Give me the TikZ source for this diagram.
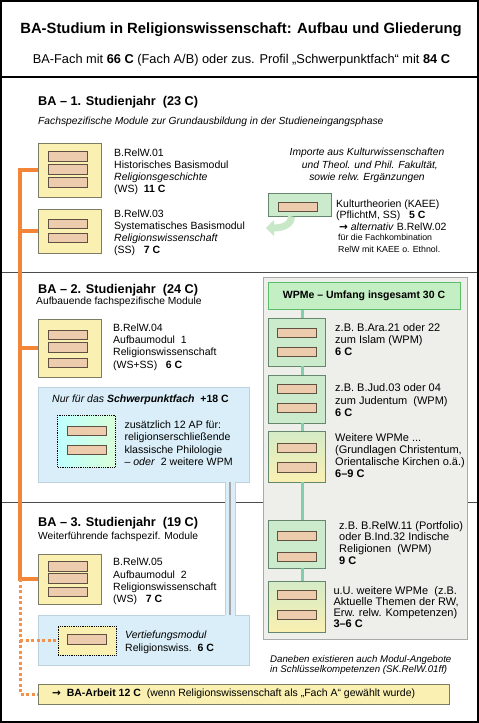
\documentclass[tikz,border=0pt]{standalone}
\usepackage{fontspec}
\setmainfont{Liberation Sans}
\newfontfamily\arrowfont{DejaVu Sans}
\usetikzlibrary{arrows.meta}

\definecolor{relworange}{RGB}{242,133,55}
\definecolor{modyellow}{RGB}{249,240,178}
\definecolor{modline}{RGB}{125,125,100}
\definecolor{barfill}{RGB}{236,204,172}
\definecolor{barline}{RGB}{95,80,65}
\definecolor{wpmgreen}{RGB}{204,234,204}
\definecolor{wpmline}{RGB}{100,135,110}
\definecolor{headgreen}{RGB}{196,238,196}
\definecolor{headline}{RGB}{90,190,105}
\definecolor{wpmlink}{RGB}{128,206,170}
\definecolor{spblue}{RGB}{217,238,248}
\definecolor{spline}{RGB}{190,210,222}
\definecolor{panelgray}{RGB}{238,238,234}
\definecolor{panelline}{RGB}{170,170,170}
\definecolor{arrowgreen}{RGB}{200,232,200}

\newcommand{\toarrow}{{\arrowfont\bfseries →}}

\begin{document}
\begin{tikzpicture}[x=1pt, y=-1pt,
  modbox/.style={rectangle, draw=modline, fill=modyellow, line width=0.8pt,
                 minimum width=63pt, inner sep=0pt},
  wpmbox/.style={rectangle, draw=wpmline, fill=wpmgreen, line width=0.8pt,
                 minimum width=57.5pt, inner sep=0pt},
  mixbox/.style={wpmbox, top color=wpmgreen!80!modyellow, bottom color=modyellow},
  bar/.style={rectangle, draw=barline, fill=barfill, line width=0.7pt,
              minimum width=39pt, minimum height=9.5pt, inner sep=0pt},
  txt/.style={anchor=north west, inner sep=0pt, align=left,
              font=\fontsize{10.5}{12.3}\selectfont},
  wtxt/.style={txt, font=\fontsize{11}{11.9}\selectfont},
  head/.style={anchor=west, inner sep=0pt, font=\fontsize{12.7}{15}\selectfont\bfseries},
  sub/.style={anchor=west, inner sep=0pt, font=\fontsize{10.3}{12}\selectfont},
  panel/.style={rectangle, inner sep=0pt, line width=0.8pt},
  divider/.style={line width=0.9pt, black!70},
  spine/.style={relworange, line width=3.5pt},
  spinedot/.style={relworange!90!white, line width=3pt, dash pattern=on 3pt off 2.5pt},
  link/.style={wpmlink, line width=3pt}
]
\useasboundingbox (0,0) rectangle (479,723);

% Frame and title
\draw[line width=1.5pt] (1,1) rectangle (478,722);
\draw[line width=1.5pt] (1,77) -- (478,77);
\node[font=\fontsize{14.8}{17}\selectfont\bfseries] (title) at (241,30)
  {BA-Studium in Religionswissenschaft: Aufbau und Gliederung};
\node[font=\fontsize{12.8}{14}\selectfont] (subtitle) at (241.5,60)
  {BA-Fach mit \textbf{66 C} (Fach A/B) oder zus. Profil „Schwerpunktfach“ mit \textbf{84 C}};

% Year dividers
\draw[divider] (2,272) -- (477,272);
\draw[divider] (2,502) -- (477,502);

% Panels
\node[panel, draw=spline, fill=spblue, minimum width=211pt, minimum height=95pt] (sp) at (143.5,434.5) {};
\node[panel, draw=spline, fill=spblue, minimum width=211pt, minimum height=50pt] (vt) at (143.5,640) {};
\fill[spblue] (225,481) rectangle (235,616);
\draw[spline, line width=0.6pt] (225,482) -- (225,615) (235,482) -- (235,615);
\coordinate (strip) at (230,0);
\draw[black!35, line width=1.2pt] (sp.south -| strip) -- (vt.north -| strip);
\node[panel, draw=panelline, fill=panelgray, minimum width=204pt, minimum height=362pt] (wp) at (365,458) {};

% 1. Studienjahr
\node[head] (y1) at (38,102) {BA – 1. Studienjahr\ \ (23 C)};
\node[sub, font=\fontsize{10.3}{12}\selectfont\itshape] (y1sub) at (38,122)
  {Fachspezifische Module zur Grundausbildung in der Studieneingangsphase};

\node[modbox, minimum height=54pt] (m1) at (69.5,170) {};
\foreach \y in {156.5,169.5,182.5} \node[bar] at (67.5,\y) {};
\node[txt] (m1t) at (114,148.2)
  {B.RelW.01\\Historisches Basismodul\\\textit{Religionsgeschichte}\\(WS)\ \ \textbf{11 C}};

\node[modbox, minimum height=44pt] (m2) at (69.5,231) {};
\foreach \y in {224,238} \node[bar] at (67.5,\y) {};
\node[txt] (m2t) at (114,209.2)
  {B.RelW.03\\Systematisches Basismodul\\\textit{Religionswissenschaft}\\(SS)\ \ \ \textbf{7 C}};

\node[txt, anchor=north, align=center, font=\fontsize{10.3}{12.5}\selectfont\itshape] (imp) at (367,148.3)
  {Importe aus Kulturwissenschaften\\\ \ und Theol. und Phil. Fakultät,\\sowie relw. Ergänzungen};

\node[wpmbox, minimum width=63pt, minimum height=23pt] (k) at (299.5,204.5) {};
\node[bar] at (297.5,207) {};
\node[txt, font=\fontsize{10.5}{11.6}\selectfont] (kt) at (336,199.5)
  {Kulturtheorien (KAEE)\\(PflichtM, SS)\ \ \ \textbf{5 C}\\\ \toarrow\ \textit{alternativ} B.RelW.02};
\node[txt, font=\fontsize{8.8}{12.6}\selectfont] (kt2) at (338,233.6)
  {für die Fachkombination\\RelW mit KAEE o. Ethnol.};
\draw[arrowgreen, line width=7pt, -{Triangle[width=16pt,length=8pt]}]
  ([xshift=-8pt]k.south) .. controls +(0,12) and +(8,0) .. (266,228);

% 2. Studienjahr
\node[head] (y2) at (38,290) {BA – 2. Studienjahr\ \ (24 C)};
\node[sub] (y2sub) at (36,302) {Aufbauende fachspezifische Module};

\node[modbox, minimum height=58pt] (m4) at (69.5,348) {};
\foreach \y in {335,347.5,363} \node[bar] at (67.5,\y) {};
\node[txt] (m4t) at (113,323.5)
  {B.RelW.04\\Aufbaumodul\ \ 1\\Religionswissenschaft\\(WS+SS)\ \ \ \textbf{6 C}};

\node[anchor=west, inner sep=0pt, font=\fontsize{10.5}{12}\selectfont] (spt) at (52,400)
  {\textit{Nur für das \textbf{Schwerpunktfach}}\ \ \textbf{+18 C}};
\node[panel, draw=black, densely dotted, line width=1pt, left color=cyan!25!white,
  right color=green!15!white, minimum width=57.5pt, minimum height=52pt] (d1) at (86.7,441) {};
\foreach \y in {431,450} \node[bar] at (86.8,\y) {};
\node[txt, font=\fontsize{10.6}{12.4}\selectfont] (d1t) at (124.3,420.5)
  {zusätzlich 12 AP für:\\religionserschließende\\klassische Philologie\\– \textit{oder}\ \ 2 weitere WPM};

% WPMe
\node[panel, draw=headline, fill=headgreen, line width=1pt, minimum width=192pt,
  minimum height=27pt, font=\fontsize{10.5}{12}\selectfont\bfseries] (wh) at (364,295.5)
  {WPMe – Umfang insgesamt 30 C};

\node[wpmbox, minimum height=48pt] (wA) at (297,342) {};
\foreach \y in {332.7,351.7} \node[bar] at (297.2,\y) {};
\node[wtxt] (wAt) at (335,323.3)
  {z.B. B.Ara.21 oder 22\\zum Islam (WPM)\\\textbf{6 C}};

\node[wpmbox, minimum height=48pt] (wB) at (297,399) {};
\foreach \y in {389,408} \node[bar] at (297.2,\y) {};
\node[wtxt, font=\fontsize{11}{12.7}\selectfont] (wBt) at (335,383.3)
  {z.B. B.Jud.03 oder 04\\zum Judentum\ \ (WPM)\\\textbf{6 C}};

\node[mixbox, minimum height=51pt] (wC) at (297,456.5) {};
\foreach \y in {447.8,467.2} \node[bar] at (297.2,\y) {};
\node[wtxt] (wCt) at (335,433.8)
  {Weitere WPMe ...\\(Grundlagen Christentum,\\Orientalische Kirchen o.ä.)\\\textbf{6–9 C}};

\node[wpmbox, minimum height=48pt] (wD) at (297,544) {};
\foreach \y in {535.7,556.7} \node[bar] at (297.2,\y) {};
\node[wtxt, font=\fontsize{11}{11.7}\selectfont] (wDt) at (339,521)
  {z.B. B.RelW.11 (Portfolio)\\oder B.Ind.32 Indische\\Religionen\ \ (WPM)\\\textbf{9 C}};

\node[mixbox, minimum height=51pt] (wE) at (297,606.5) {};
\foreach \y in {595,615} \node[bar] at (297.2,\y) {};
\node[wtxt, font=\fontsize{11}{11.2}\selectfont] (wEt) at (333.3,586)
  {u.U. weitere WPMe\ \ (z.B.\\Aktuelle Themen der RW,\\Erw. relw. Kompetenzen)\\\textbf{3–6 C}};

\coordinate (link) at (302,0);
\draw[link] (wh.south -| link) -- (wA.north -| link);
\draw[link] (wA.south -| link) -- (wB.north -| link);
\draw[link] (wB.south -| link) -- (wC.north -| link);
\draw[link] (wC.south -| link) -- (wD.north -| link);
\draw[link] (wD.south -| link) -- (wE.north -| link);

% 3. Studienjahr
\node[head] (y3) at (38,523) {BA – 3. Studienjahr\ \ (19 C)};
\node[sub] (y3sub) at (38,537) {Weiterführende fachspezif. Module};

\node[modbox, minimum height=50pt] (m5) at (69.5,579) {};
\foreach \y in {566.5,578.5,592} \node[bar] at (67.5,\y) {};
\node[txt] (m5t) at (113,557.9)
  {B.RelW.05\\Aufbaumodul\ \ 2\\Religionswissenschaft\\(WS)\ \ \ \textbf{7 C}};

\node[panel, draw=black, densely dotted, line width=1pt, fill=modyellow,
  minimum width=58pt, minimum height=29pt] (d2) at (87,640.5) {};
\node[bar] at (86.8,639.3) {};
\node[txt, font=\fontsize{10.5}{13.4}\selectfont] (d2t) at (125,630.5)
  {\textit{Vertiefungsmodul}\\Religionswiss.\ \ \textbf{6 C}};

\node[txt, font=\fontsize{9.7}{10}\selectfont\itshape] (note) at (270,654.8)
  {Daneben existieren auch Modul-Angebote\\in Schlüsselkompetenzen (SK.RelW.01ff)};

% BA-Arbeit
\node[panel, draw=modline, fill=modyellow, minimum width=411pt, minimum height=20pt] (ba) at (243.8,694) {};
\node[anchor=west, inner sep=0pt, font=\fontsize{10.5}{12}\selectfont] (bat) at (52,694)
  {\textbf{\toarrow\ \ BA-Arbeit 12 C}\ \ (wenn Religionswissenschaft als „Fach A“ gewählt wurde)};

% Orange spine
\coordinate (rail) at (20,0);
\draw[spine] (m1.west) -- (m1.west -| rail) -- (m5.west -| rail) -- (m5.west);
\draw[spine] (m2.west) -- (m2.west -| rail);
\draw[spine] (m4.west) -- (m4.west -| rail);
\draw[spinedot] (m5.west -| rail) -- (ba.west -| rail) -- (ba.west);
\draw[spinedot] (d2.west -| rail) -- (d2.west);
\end{tikzpicture}
\end{document}
